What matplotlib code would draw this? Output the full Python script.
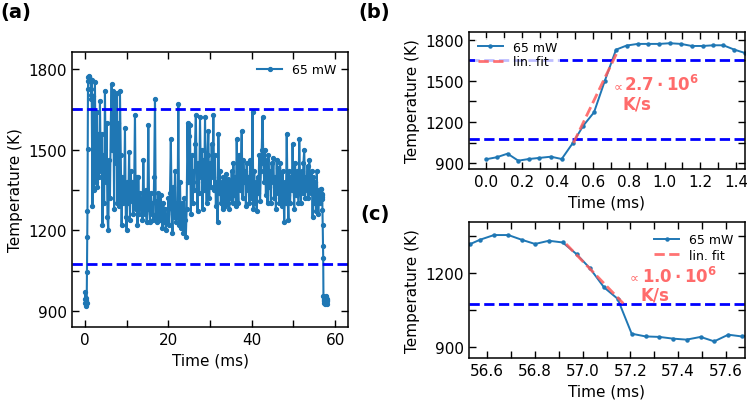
import numpy as np
import matplotlib
matplotlib.use("Agg")
import matplotlib.pyplot as plt
from matplotlib.ticker import MultipleLocator

# start of the pulse (panel b)
t_start = [0.000, 0.061, 0.121, 0.181, 0.240, 0.299, 0.364, 0.424, 0.485, 0.545,
           0.605, 0.666, 0.728, 0.787, 0.849, 0.909, 0.970, 1.030, 1.092, 1.152,
           1.213, 1.273, 1.329, 1.391, 1.450, 1.510]
T_start = [929, 944, 970, 919, 931, 939, 948, 931, 1045, 1174,
           1271, 1502, 1727, 1757, 1769, 1769, 1769, 1774, 1769, 1754,
           1754, 1759, 1759, 1727, 1703, 1690]

# middle of the pulse (panel a), one value every 0.2 ms from 1.6 ms
T_mid = [
    1760, 1290, 1700, 1350, 1750, 1380, 1640, 1360, 1560, 1400,
    1680, 1420, 1560, 1220, 1480, 1300, 1720, 1380, 1600, 1250,
    1200, 1460, 1320, 1600, 1745, 1500, 1720, 1280, 1700, 1450,
    1710, 1300, 1600, 1290, 1720, 1480, 1220, 1400, 1300, 1330,
    1580, 1250, 1200, 1380, 1300, 1490, 1240, 1420, 1310, 1380,
    1260, 1350, 1630, 1280, 1400, 1220, 1400, 1260, 1340, 1280,
    1320, 1240, 1460, 1300, 1260, 1350, 1230, 1300, 1590, 1280,
    1230, 1340, 1260, 1300, 1240, 1400, 1690, 1250, 1310, 1230,
    1340, 1270, 1240, 1330, 1260, 1210, 1300, 1230, 1280, 1200,
    1260, 1230, 1320, 1220, 1340, 1540, 1280, 1190, 1360, 1250,
    1420, 1230, 1300, 1250, 1670, 1220, 1380, 1210, 1300, 1260,
    1190, 1320, 1240, 1175, 1280, 1600, 1380, 1550, 1590, 1260,
    1480, 1300, 1420, 1350, 1520, 1630, 1380, 1270, 1450, 1340,
    1620, 1400, 1500, 1280, 1460, 1350, 1620, 1420, 1300, 1480,
    1570, 1320, 1450, 1360, 1520, 1400, 1630, 1350, 1480, 1290,
    1380, 1230, 1560, 1340, 1420, 1300, 1380, 1280, 1400, 1330,
    1290, 1410, 1350, 1300, 1390, 1280, 1380, 1320, 1420, 1300,
    1450, 1330, 1400, 1290, 1540, 1380, 1300, 1480, 1350, 1440,
    1570, 1320, 1460, 1380, 1420, 1290, 1450, 1350, 1400, 1300,
    1460, 1320, 1380, 1640, 1280, 1420, 1300, 1380, 1270, 1400,
    1340, 1480, 1310, 1420, 1500, 1620, 1450, 1380, 1500, 1330,
    1460, 1300, 1480, 1360, 1420, 1300, 1450, 1380, 1470, 1320,
    1400, 1280, 1460, 1340, 1430, 1300, 1450, 1370, 1290, 1420,
    1350, 1230, 1380, 1300, 1560, 1330, 1240, 1420, 1300, 1400,
    1350, 1520, 1380, 1280, 1450, 1330, 1420, 1360, 1300, 1540,
    1380, 1300, 1420, 1340, 1450, 1500, 1320, 1400, 1350, 1440,
    1320, 1460, 1380, 1340, 1420, 1250, 1400, 1300, 1380, 1270,
    1420, 1300, 1260, 1350,
]
t_mid = 1.6 + 0.2 * np.arange(len(T_mid))

# end of the pulse (panel c)
t_end = [56.470, 56.527, 56.569, 56.628, 56.688, 56.744, 56.800, 56.858, 56.916,
         56.974, 57.030, 57.089, 57.146, 57.205, 57.263, 57.321, 57.379, 57.435,
         57.494, 57.551, 57.610, 57.666, 57.720, 57.780, 57.840, 57.900, 57.960,
         58.020, 58.080, 58.140]
T_end = [1300, 1316, 1334, 1353, 1353, 1334, 1317, 1330, 1323,
         1276, 1219, 1142, 1096, 955, 944, 942, 935, 931,
         942, 924, 951, 944, 950, 938, 955, 930, 945,
         925, 940, 935]

t_all = np.concatenate([t_start, t_mid, t_end])
T_all = np.concatenate([T_start, T_mid, T_end])

levels = [1650, 1075]
label = '65 mW'

# linear fits: slope (K/ms), anchor point, range
fit_b = dict(slope=2700, t0=0.60, T0=1345, t1=0.49, t2=0.74)
fit_c = dict(slope=-1000, t0=57.045, T0=1202, t1=56.93, t2=57.17)

plt.rcParams['font.family'] = 'DejaVu Sans'
plt.rcParams['font.size'] = 11

blue = '#1f77b4'
fitcol = '#ff5a5a'
txtcol = '#ff6b6b'

fig = plt.figure(figsize=(7.47, 4.02), dpi=100)
ax_a = fig.add_axes([0.0964, 0.184, 0.3695, 0.684])
ax_b = fig.add_axes([0.6278, 0.577, 0.3695, 0.341])
ax_c = fig.add_axes([0.6278, 0.107, 0.3695, 0.3385])


def style(ax, xmaj, xmin, ymaj, ymin):
    ax.xaxis.set_major_locator(MultipleLocator(xmaj))
    ax.xaxis.set_minor_locator(MultipleLocator(xmin))
    ax.yaxis.set_major_locator(MultipleLocator(ymaj))
    ax.yaxis.set_minor_locator(MultipleLocator(ymin))
    ax.tick_params(which='both', direction='in', top=True, right=True,
                   length=5, width=1, labelsize=11)
    for s in ax.spines.values():
        s.set_linewidth(1.1)
    ax.set_xlabel('Time (ms)', fontsize=11)
    ax.set_ylabel('Temperature (K)', fontsize=11)


def draw_fit(ax, f):
    tt = np.array([f['t1'], f['t2']])
    ax.plot(tt, f['T0'] + f['slope'] * (tt - f['t0']), '--', color=fitcol,
            lw=2, alpha=0.85, label='lin. fit', zorder=3)


def rate(ax, x_sym, y_sym, x_num, y_num, x_ks, y_ks, num):
    ax.text(x_sym, y_sym, r'$\propto$', transform=ax.transAxes, color=txtcol,
            fontsize=9, va='baseline', ha='left')
    ax.text(x_num, y_num, num, transform=ax.transAxes,
            color=txtcol, fontsize=12, va='baseline', ha='left')
    ax.text(x_ks, y_ks, 'K/s', transform=ax.transAxes, color=txtcol,
            fontsize=12, fontweight='bold', va='baseline', ha='left')


# (a)
ax_a.plot(t_all, T_all, '-o', color=blue, lw=1.5, ms=2.8, label=label)
for y in levels:
    ax_a.axhline(y, color='blue', ls='--', lw=2)
ax_a.set_xlim(-3.1, 63.1)
ax_a.set_ylim(840, 1863)
style(ax_a, 20, 10, 300, 150)
ax_a.legend(loc='upper right', fontsize=9, frameon=False)

# (b)
ax_b.plot(t_all, T_all, '-o', color=blue, lw=1.4, ms=2.2, label=label)
for y in levels:
    ax_b.axhline(y, color='blue', ls='--', lw=2)
draw_fit(ax_b, fit_b)
ax_b.set_xlim(-0.095, 1.45)
ax_b.set_ylim(858, 1856)
style(ax_b, 0.2, 0.1, 300, 150)
ax_b.legend(loc='upper left', fontsize=9, framealpha=0.75, edgecolor='none',
            fancybox=False, borderpad=0.2, labelspacing=0.1)
rate(ax_b, 0.514, 0.584, 0.562, 0.577, 0.558, 0.445, r'$\mathbf{2.7\cdot10^6}$')

# (c)
ax_c.plot(t_all, T_all, '-o', color=blue, lw=1.4, ms=2.2, label=label)
for y in levels:
    ax_c.axhline(y, color='blue', ls='--', lw=2)
draw_fit(ax_c, fit_c)
ax_c.set_xlim(56.523, 57.68)
ax_c.set_ylim(857, 1406)
style(ax_c, 0.2, 0.1, 300, 150)
ax_c.legend(loc='upper right', fontsize=9, frameon=False, labelspacing=0.2)
rate(ax_c, 0.572, 0.573, 0.627, 0.559, 0.623, 0.433, r'$\mathbf{1.0\cdot10^6}$')

fig.text(0.0, 1 - 3 / 402, '(a)', fontsize=14, fontweight='bold', va='top', ha='left')
fig.text(358 / 747, 1 - 3 / 402, '(b)', fontsize=14, fontweight='bold', va='top', ha='left')
fig.text(360 / 747, 1 - 205 / 402, '(c)', fontsize=14, fontweight='bold', va='top', ha='left')

fig.savefig('out.png', dpi=100)
